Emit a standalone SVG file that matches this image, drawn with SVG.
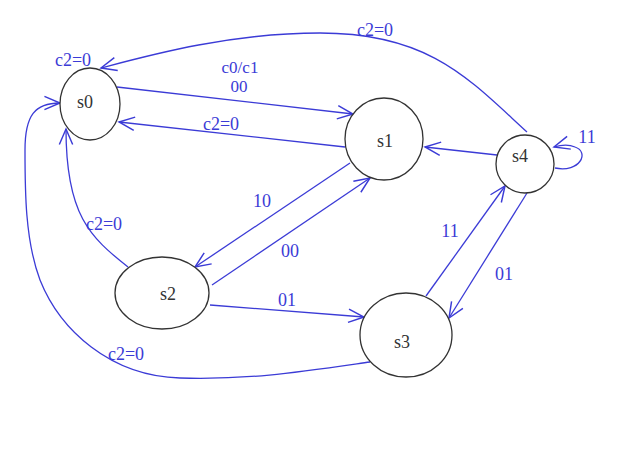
<svg xmlns="http://www.w3.org/2000/svg" width="624" height="464" viewBox="0 0 624 464">
<style>
.node ellipse{fill:#fff;stroke:#333;stroke-width:1.3}
.node text{font-family:"Liberation Serif",serif;font-size:18px;fill:#333;text-anchor:middle}
.edge{fill:none;stroke:#3b3bd6;stroke-width:1.3;marker-end:url(#arr)}
.lbl{font-family:"Liberation Serif",serif;font-size:18px;fill:#3b3bd6;text-anchor:middle}
.sm{font-size:17px}
</style>
<defs>
<marker id="arr" markerUnits="userSpaceOnUse" markerWidth="20" markerHeight="20" viewBox="-16 -8 18 16" refX="0" refY="0" orient="auto">
<path d="M-14,-6 L0,0 L-14,6" fill="none" stroke="#3b3bd6" stroke-width="1.3"/>
</marker>
</defs>
<rect width="624" height="464" fill="#fff"/>
<g id="connectors">
<path class="edge" d="M527,132 C470,80 430,33 320,33 C230,33 150,55 101,68"/>
<path class="edge" d="M117,87 L353,114"/>
<path class="edge" d="M345,147 L119,122"/>
<path class="edge" d="M497,155 L425,147"/>
<path class="edge" d="M555,168 C580,173 590,152 575,147 C568,144 561,145 554,147"/>
<path class="edge" d="M350,163 L195,267"/>
<path class="edge" d="M212,285 L370,178"/>
<path class="edge" d="M210,305 L364,317"/>
<path class="edge" d="M426,296 L505,186"/>
<path class="edge" d="M527,193 L449,318"/>
<path class="edge" d="M128,267 C90,237 66,215 66,129"/>
<path class="edge" d="M370,362 C300,372 250,380 180,378 C110,376 60,330 40,280 C25,240 25,190 25,150 C25,115 35,103 60,103"/>
<text class="lbl" x="375" y="36">c2=0</text>
<text class="lbl sm" x="240" y="73">c0/c1</text>
<text class="lbl sm" x="239" y="92">00</text>
<text class="lbl" x="221" y="130">c2=0</text>
<text class="lbl" x="587" y="143">11</text>
<text class="lbl" x="262" y="207">10</text>
<text class="lbl" x="290" y="257">00</text>
<text class="lbl" x="287" y="306">01</text>
<text class="lbl" x="450" y="237">11</text>
<text class="lbl" x="504" y="280">01</text>
<text class="lbl" x="104" y="230">c2=0</text>
<text class="lbl" x="126" y="360">c2=0</text>
<text class="lbl" x="73" y="66">c2=0</text>
</g>
<g id="s0" class="node"><ellipse cx="90" cy="104" rx="30" ry="36"/><text x="85" y="108">s0</text></g>
<g id="s1" class="node"><ellipse cx="384" cy="139" rx="39" ry="41"/><text x="385" y="147">s1</text></g>
<g id="s2" class="node"><ellipse cx="162" cy="293" rx="47" ry="36"/><text x="168" y="300">s2</text></g>
<g id="s3" class="node"><ellipse cx="406" cy="335" rx="46" ry="42"/><text x="402" y="348">s3</text></g>
<g id="s4" class="node"><ellipse cx="525" cy="164" rx="29" ry="29"/><text x="520" y="162">s4</text></g>
</svg>
